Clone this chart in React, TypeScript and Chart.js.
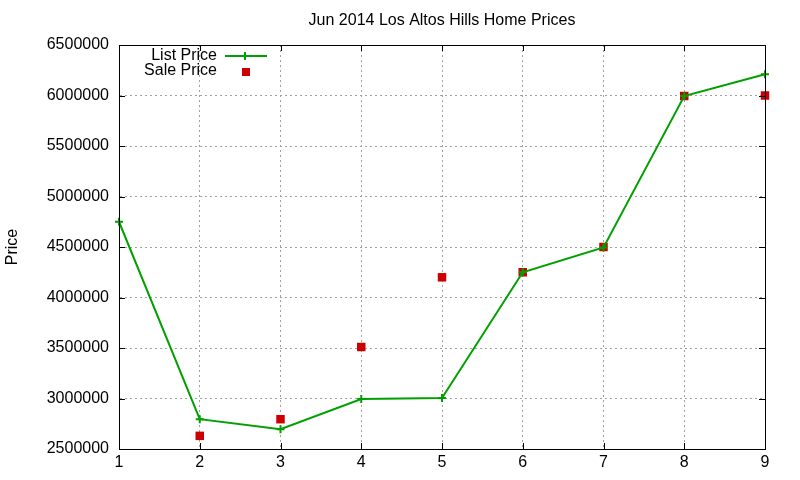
import React, { useEffect, useRef } from 'react';
import { Chart, registerables } from 'chart.js';

Chart.register(...registerables);

const chartTitle = 'Jun 2014 Los Altos Hills Home Prices';
const homeIndex = ['1', '2', '3', '4', '5', '6', '7', '8', '9'];
const listPrice = [4750000, 2795000, 2695000, 2995000, 3005000, 4250000, 4495000, 5995000, 6210000];
const salePrice = [null, 2630000, 2795000, 3510000, 4200000, 4250000, 4500000, 5995000, 6000000];
const seriesNames = ['List Price', 'Sale Price'];

const GREEN = '#00a000';
const RED = '#cc0000';
const FONT = "'Liberation Sans', Arial, sans-serif";

// gnuplot look: title, full border box, inward ticks and a legend inside the plot
const gnuplotDecor = {
  id: 'gnuplotDecor',
  afterDraw(chart: Chart) {
    const { ctx, chartArea: a, scales } = chart;
    ctx.save();

    ctx.fillStyle = '#000';
    ctx.font = `16px ${FONT}`;
    ctx.textAlign = 'center';
    ctx.textBaseline = 'middle';
    ctx.fillText(chartTitle, (a.left + a.right) / 2, 21);

    ctx.strokeStyle = '#000';
    ctx.lineWidth = 1;
    ctx.strokeRect(a.left + 0.5, a.top + 0.5, a.right - a.left, a.bottom - a.top);

    ctx.beginPath();
    const xs = scales.x;
    xs.ticks.forEach((_, i) => {
      const px = Math.round(xs.getPixelForTick(i)) + 0.5;
      ctx.moveTo(px, a.bottom); ctx.lineTo(px, a.bottom - 6);
      ctx.moveTo(px, a.top); ctx.lineTo(px, a.top + 6);
    });
    const ys = scales.y;
    ys.ticks.forEach((_, i) => {
      const py = Math.round(ys.getPixelForTick(i)) + 0.5;
      ctx.moveTo(a.left, py); ctx.lineTo(a.left + 6, py);
      ctx.moveTo(a.right, py); ctx.lineTo(a.right - 6, py);
    });
    ctx.stroke();

    // legend
    const textRight = a.left + 98;
    ctx.fillStyle = '#000';
    ctx.textAlign = 'right';
    ctx.fillText(seriesNames[0], textRight, a.top + 11);
    ctx.fillText(seriesNames[1], textRight, a.top + 26);

    ctx.strokeStyle = GREEN;
    ctx.lineWidth = 2;
    ctx.beginPath();
    ctx.moveTo(a.left + 106, a.top + 11);
    ctx.lineTo(a.left + 148, a.top + 11);
    ctx.moveTo(a.left + 126, a.top + 7);
    ctx.lineTo(a.left + 126, a.top + 15);
    ctx.stroke();

    ctx.fillStyle = RED;
    ctx.fillRect(a.left + 123, a.top + 23, 8, 8);

    ctx.restore();
  },
};

export default function App() {
  const canvasRef = useRef<HTMLCanvasElement>(null);

  useEffect(() => {
    if (!canvasRef.current) return;
    const chart = new Chart(canvasRef.current, {
      type: 'line',
      data: {
        labels: homeIndex,
        datasets: [
          {
            label: seriesNames[0],
            data: listPrice,
            borderColor: GREEN,
            backgroundColor: GREEN,
            borderWidth: 2,
            pointStyle: 'cross',
            pointRadius: 4,
            pointBorderWidth: 2,
            tension: 0,
          },
          {
            label: seriesNames[1],
            data: salePrice,
            showLine: false,
            borderColor: RED,
            backgroundColor: RED,
            pointStyle: 'rect',
            pointRadius: 6,
            pointBorderWidth: 0,
          },
        ],
      },
      options: {
        responsive: true,
        maintainAspectRatio: false,
        animation: false,
        layout: { padding: { top: 45, right: 35, left: 3, bottom: 0 } },
        plugins: {
          legend: { display: false },
          title: { display: false },
          tooltip: { enabled: false },
        },
        scales: {
          x: {
            offset: false,
            grid: { color: '#a0a0a0', drawTicks: false },
            border: { color: '#000', dash: [2, 3] },
            ticks: { color: '#000', font: { family: FONT, size: 16 }, padding: 4, maxRotation: 0 },
            afterFit: (s: any) => { s.height = 31; },
          },
          y: {
            min: 2500000,
            max: 6500000,
            grid: { color: '#a0a0a0', drawTicks: false },
            border: { color: '#000', dash: [2, 3] },
            ticks: {
              stepSize: 500000,
              color: '#000',
              font: { family: FONT, size: 16 },
              padding: 10,
              callback: (v: any) => String(v),
            },
            title: {
              display: true,
              text: 'Price',
              color: '#000',
              font: { family: FONT, size: 16 },
              padding: 0,
            },
            afterFit: (s: any) => { s.width = 116; },
          },
        },
      },
      plugins: [gnuplotDecor],
    });
    return () => chart.destroy();
  }, []);

  return (
    <div style={{ position: 'absolute', left: 0, top: 0, width: 800, height: 480, background: '#fff' }}>
      <canvas ref={canvasRef} />
    </div>
  );
}
